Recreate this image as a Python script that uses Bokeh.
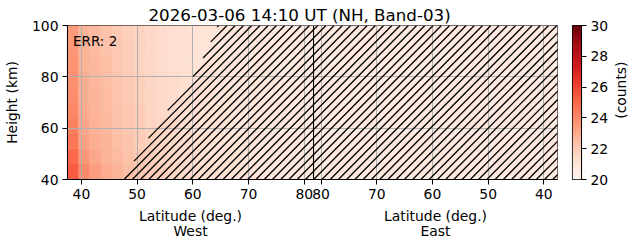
import math
import numpy as np
from bokeh.plotting import figure
from bokeh.layouts import row, column
from bokeh.models import (ColumnDataSource, LinearColorMapper, FixedTicker,
                          Label, Span, Range1d)
from bokeh.core.properties import value
from bokeh.palettes import Reds256
from bokeh.transform import transform
from bokeh.embed import file_html
from bokeh.resources import INLINE

# ---------------- data ----------------
TITLE = "2026-03-06 14:10 UT (NH, Band-03)"
ERR_TEXT = "ERR: 2"
X_LABEL = "Latitude (deg.)"
SIDE_LABELS = ["West", "East"]
Y_LABEL = "Height (km)"
CB_LABEL = "(counts)"
LAT_TICKS = [40, 50, 60, 70, 80]
HEIGHT_TICKS = [40, 60, 80, 100]
CB_TICKS = [20, 22, 24, 26, 28, 30]
CLIM = (20, 30)

WEST_LAT_RANGE = (37.5, 81.67)   # left edge -> divider
EAST_LAT_RANGE = (81.35, 37.55)  # divider -> right edge
HEIGHT_RANGE = (40, 100)

HEIGHT_EDGES = [40, 46, 52, 58, 64, 70, 76, 82, 88, 94, 100]
WEST_LAT_EDGES = [37.5, 39.5, 41.5, 43.5, 45.5, 47.5, 49.5, 51.5, 53.5, 55.5, 57.5,
                  59.5, 61.5, 63.5, 65.5, 67.5, 69.5, 71.5, 73.5, 75.5, 77.5, 79.5, 81.67]
EAST_LAT_EDGES = [81.35, 77.35, 73.35, 69.35, 65.35, 61.35, 57.35, 53.35, 49.35,
                  45.35, 41.35, 37.55]

# counts, rows bottom (40 km) -> top (100 km)
WEST_VALUES = [
    [25.4, 24.0, 23.4, 23.0, 22.7, 22.4, 22.1, 21.9, 21.8, 21.6, 21.5, 21.4, 21.3, 21.2, 21.1, 21.0, 21.0, 20.9, 20.9, 20.8, 20.8, 20.8],
    [25.0, 23.6, 23.1, 22.8, 22.5, 22.3, 22.0, 21.8, 21.7, 21.5, 21.4, 21.3, 21.2, 21.1, 21.1, 21.0, 20.9, 20.9, 20.9, 20.8, 20.8, 20.8],
    [24.6, 23.3, 22.9, 22.7, 22.4, 22.2, 21.9, 21.8, 21.6, 21.5, 21.4, 21.3, 21.2, 21.1, 21.0, 21.0, 20.9, 20.9, 20.8, 20.8, 20.8, 20.7],
    [24.3, 23.1, 22.8, 22.6, 22.3, 22.1, 21.9, 21.7, 21.6, 21.5, 21.3, 21.2, 21.1, 21.1, 21.0, 20.9, 20.9, 20.9, 20.8, 20.8, 20.7, 20.7],
    [24.1, 23.0, 22.7, 22.5, 22.3, 22.1, 21.9, 21.7, 21.5, 21.4, 21.3, 21.2, 21.1, 21.0, 21.0, 20.9, 20.9, 20.8, 20.8, 20.8, 20.7, 20.7],
    [23.9, 22.9, 22.7, 22.5, 22.2, 22.0, 21.8, 21.7, 21.5, 21.4, 21.3, 21.2, 21.1, 21.0, 21.0, 20.9, 20.9, 20.8, 20.8, 20.7, 20.7, 20.7],
    [23.8, 22.9, 22.6, 22.4, 22.2, 22.0, 21.8, 21.6, 21.5, 21.4, 21.3, 21.2, 21.1, 21.0, 20.9, 20.9, 20.8, 20.8, 20.8, 20.7, 20.7, 20.7],
    [23.7, 22.8, 22.6, 22.4, 22.1, 21.9, 21.7, 21.6, 21.4, 21.3, 21.2, 21.1, 21.1, 21.0, 20.9, 20.9, 20.8, 20.8, 20.7, 20.7, 20.7, 20.7],
    [23.6, 22.8, 22.5, 22.3, 22.1, 21.9, 21.7, 21.5, 21.4, 21.3, 21.2, 21.1, 21.0, 21.0, 20.9, 20.8, 20.8, 20.8, 20.7, 20.7, 20.7, 20.7],
    [23.5, 22.7, 22.5, 22.3, 22.0, 21.8, 21.7, 21.5, 21.4, 21.3, 21.2, 21.1, 21.0, 20.9, 20.9, 20.8, 20.8, 20.7, 20.7, 20.7, 20.7, 20.6],
]
EAST_VALUES = [
    [20.8, 20.8, 20.7, 20.8, 20.7, 20.7, 20.8, 20.7, 20.7, 20.8, 20.7],
    [20.7, 20.8, 20.7, 20.7, 20.7, 20.8, 20.7, 20.7, 20.8, 20.7, 20.7],
    [20.7, 20.7, 20.7, 20.7, 20.8, 20.7, 20.7, 20.7, 20.7, 20.7, 20.8],
    [20.7, 20.7, 20.8, 20.7, 20.7, 20.7, 20.7, 20.8, 20.7, 20.7, 20.7],
    [20.7, 20.7, 20.7, 20.7, 20.7, 20.7, 20.7, 20.7, 20.7, 20.8, 20.7],
    [20.7, 20.6, 20.7, 20.7, 20.7, 20.7, 20.7, 20.7, 20.7, 20.7, 20.7],
    [20.6, 20.7, 20.7, 20.6, 20.7, 20.7, 20.6, 20.7, 20.7, 20.7, 20.7],
    [20.7, 20.6, 20.7, 20.7, 20.6, 20.7, 20.7, 20.7, 20.6, 20.7, 20.6],
    [20.6, 20.7, 20.6, 20.7, 20.7, 20.6, 20.7, 20.6, 20.7, 20.6, 20.7],
    [20.6, 20.6, 20.7, 20.6, 20.6, 20.7, 20.6, 20.7, 20.6, 20.7, 20.6],
]

# boundary of the hatched (flagged) region on the West side
HATCH_HEIGHTS = [40, 50, 60, 70, 80, 90, 100]
HATCH_WEST_LAT = [47.5, 50.2, 53.2, 56.5, 60.0, 62.5, 64.5]

# ---------------- helpers ----------------
def u_west(lat):
    return lat

def u_east(lat):
    return WEST_LAT_RANGE[1] + (EAST_LAT_RANGE[0] - lat)

X0 = u_west(WEST_LAT_RANGE[0])
XDIV = u_west(WEST_LAT_RANGE[1])
X1 = u_east(EAST_LAT_RANGE[1])
H0, H1 = HEIGHT_RANGE

left, right, bottom, top, vals = [], [], [], [], []
for i in range(len(HEIGHT_EDGES) - 1):
    for j in range(len(WEST_LAT_EDGES) - 1):
        left.append(u_west(WEST_LAT_EDGES[j])); right.append(u_west(WEST_LAT_EDGES[j + 1]))
        bottom.append(HEIGHT_EDGES[i]); top.append(HEIGHT_EDGES[i + 1])
        vals.append(WEST_VALUES[i][j])
    for j in range(len(EAST_LAT_EDGES) - 1):
        left.append(u_east(EAST_LAT_EDGES[j])); right.append(u_east(EAST_LAT_EDGES[j + 1]))
        bottom.append(HEIGHT_EDGES[i]); top.append(HEIGHT_EDGES[i + 1])
        vals.append(EAST_VALUES[i][j])

src = ColumnDataSource(dict(left=left, right=right, bottom=bottom, top=top, v=vals))
palette = list(reversed(Reds256))
mapper = LinearColorMapper(palette=palette, low=CLIM[0], high=CLIM[1])

FONT = "DejaVu Sans"
FS = "13.9px"

# frame geometry (pixels)
FRAME_L, FRAME_W, FRAME_T, FRAME_H = 62, 495, 25, 154
ppx = FRAME_W / (X1 - X0)
ppy = FRAME_H / (H1 - H0)

# ---------------- main panel ----------------
p = figure(width=558, height=207, output_backend="svg", toolbar_location=None,
           x_range=Range1d(X0, X1), y_range=Range1d(H0, H1),
           min_border_left=FRAME_L, min_border_right=1, min_border_top=FRAME_T,
           min_border_bottom=28)

p.title.text = TITLE
p.title.text_font = FONT
p.title.text_font_size = "16.7px"
p.title.text_font_style = "normal"
p.title.text_color = "black"
p.title.text_line_height = 1.0
p.title.align = "left"
p.title.offset = 81
p.title.standoff = 1.3

p.quad(left="left", right="right", bottom="bottom", top="top", source=src,
       fill_color=transform("v", mapper), line_color=transform("v", mapper),
       line_width=0.6, level="image")

# 45-degree hatch over the flagged region (right of the West boundary + all East)
def boundary(h):
    return float(np.interp(h, HATCH_HEIGHTS, HATCH_WEST_LAT))

HATCH_SPACING_PX = 8.33
HATCH_PHASE_PX = 523
span_u = (H1 - H0) * ppy / ppx   # lat shift of a 45-degree screen line over full height
hxs, hys = [], []
hs = np.linspace(H0, H1, 601)
for n in range(-70, 30):
    c = HATCH_PHASE_PX + n * HATCH_SPACING_PX
    ub = X0 + (c - (FRAME_T + FRAME_H) - FRAME_L) / ppx   # at H0
    ut = ub + span_u
    if ut < X0 or ub > X1:
        continue
    fv = [ub + (h - H0) * span_u / (H1 - H0) - boundary(h) for h in hs]
    start = None
    for k, h in enumerate(hs):
        if fv[k] >= 0:
            if k == 0:
                start = h
            else:
                h_a = hs[k - 1]
                start = h_a + (h - h_a) * (-fv[k - 1]) / (fv[k] - fv[k - 1])
            break
    if start is None:
        continue
    us = ub + (start - H0) * span_u / (H1 - H0)
    hxs.append([us, ut]); hys.append([start, H1])
p.multi_line(hxs, hys, line_color="black", line_width=1.3)

p.add_layout(Span(location=XDIV, dimension="height", line_color="black", line_width=1.1))

xt = [round(u_west(t), 3) for t in LAT_TICKS] + [round(u_east(t), 3) for t in LAT_TICKS]
xlab = {round(u_west(t), 3): str(t) for t in LAT_TICKS}
xlab.update({round(u_east(t), 3): str(t) for t in LAT_TICKS})
p.xaxis.ticker = FixedTicker(ticks=xt)
p.xaxis.major_label_overrides = xlab
p.yaxis.ticker = FixedTicker(ticks=HEIGHT_TICKS)
p.xgrid.ticker = FixedTicker(ticks=xt)
p.ygrid.ticker = FixedTicker(ticks=HEIGHT_TICKS)
p.grid.grid_line_color = "#b0b0b0"
p.grid.grid_line_width = 1

for ax in (p.xaxis[0], p.yaxis[0]):
    ax.major_tick_out = 5
    ax.major_tick_in = 0
    ax.minor_tick_line_color = None
    ax.axis_line_color = "black"
    ax.major_tick_line_color = "black"
    ax.major_label_text_font = FONT
    ax.major_label_text_font_size = FS
    ax.major_label_text_color = "black"
    ax.major_label_standoff = 4
    ax.axis_label_text_font = FONT
    ax.axis_label_text_font_size = FS
    ax.axis_label_text_font_style = "normal"
    ax.axis_label_text_color = "black"
p.yaxis.axis_label = Y_LABEL
p.yaxis.axis_label_standoff = 9
p.outline_line_color = "black"
p.outline_line_width = 1.1

p.add_layout(Label(x=X0, y=H1, x_offset=5.5, y_offset=-7, text=ERR_TEXT,
                   text_align="left", text_baseline="top", text_font=FONT,
                   text_font_size="13.5px", text_color="black"))

# ---------------- x-axis titles under each half ----------------
tf = figure(width=558, height=36, output_backend="svg", toolbar_location=None,
            x_range=p.x_range, y_range=Range1d(36, 0),
            min_border_left=FRAME_L, min_border_right=1, min_border_top=0, min_border_bottom=0,
            x_axis_location=None, y_axis_location=None)
tf.grid.visible = False
tf.outline_line_color = None
centers = [(X0 + XDIV) / 2, (XDIV + X1) / 2]
tf.text(x=centers, y=[8, 8], text=[X_LABEL, X_LABEL], text_align="center",
        text_baseline="middle", text_font=value(FONT), text_font_size=FS, text_color="black")
tf.text(x=centers, y=[23, 23], text=SIDE_LABELS, text_align="center",
        text_baseline="middle", text_font=value(FONT), text_font_size=FS, text_color="black")

# ---------------- colour bar ----------------
N = len(palette)
levels = np.array([[CLIM[0] + (CLIM[1] - CLIM[0]) * (k + 0.5) / N] for k in range(N)])
cbf = figure(width=53, height=243, output_backend="svg", toolbar_location=None,
             x_range=Range1d(0, 1), y_range=Range1d(*CLIM),
             min_border_left=14, min_border_right=30, min_border_top=25, min_border_bottom=64,
             x_axis_location=None, y_axis_location="right")
cbf.image(image=[levels], x=0, y=CLIM[0], dw=1, dh=CLIM[1] - CLIM[0], color_mapper=mapper)
cbf.grid.visible = False
cbf.outline_line_color = "black"
cbf.outline_line_width = 1.1
ya = cbf.yaxis[0]
ya.ticker = FixedTicker(ticks=CB_TICKS)
ya.major_tick_out = 5
ya.major_tick_in = 0
ya.minor_tick_line_color = None
ya.axis_line_color = "black"
ya.major_tick_line_color = "black"
ya.major_label_text_font = FONT
ya.major_label_text_font_size = FS
ya.major_label_text_color = "black"
ya.major_label_standoff = 4

cf = figure(width=20, height=243, output_backend="svg", toolbar_location=None,
            x_range=Range1d(0, 20), y_range=Range1d(243, 0),
            min_border_left=0, min_border_right=0, min_border_top=0, min_border_bottom=0,
            x_axis_location=None, y_axis_location=None)
cf.grid.visible = False
cf.outline_line_color = None
cf.text(x=[9], y=[102], text=[CB_LABEL], angle=math.pi / 2, text_align="center",
        text_baseline="middle", text_font=value(FONT), text_font_size=FS, text_color="black")

layout = row(column(p, tf), cbf, cf)
open("out.html", "w").write(file_html(layout, INLINE))
